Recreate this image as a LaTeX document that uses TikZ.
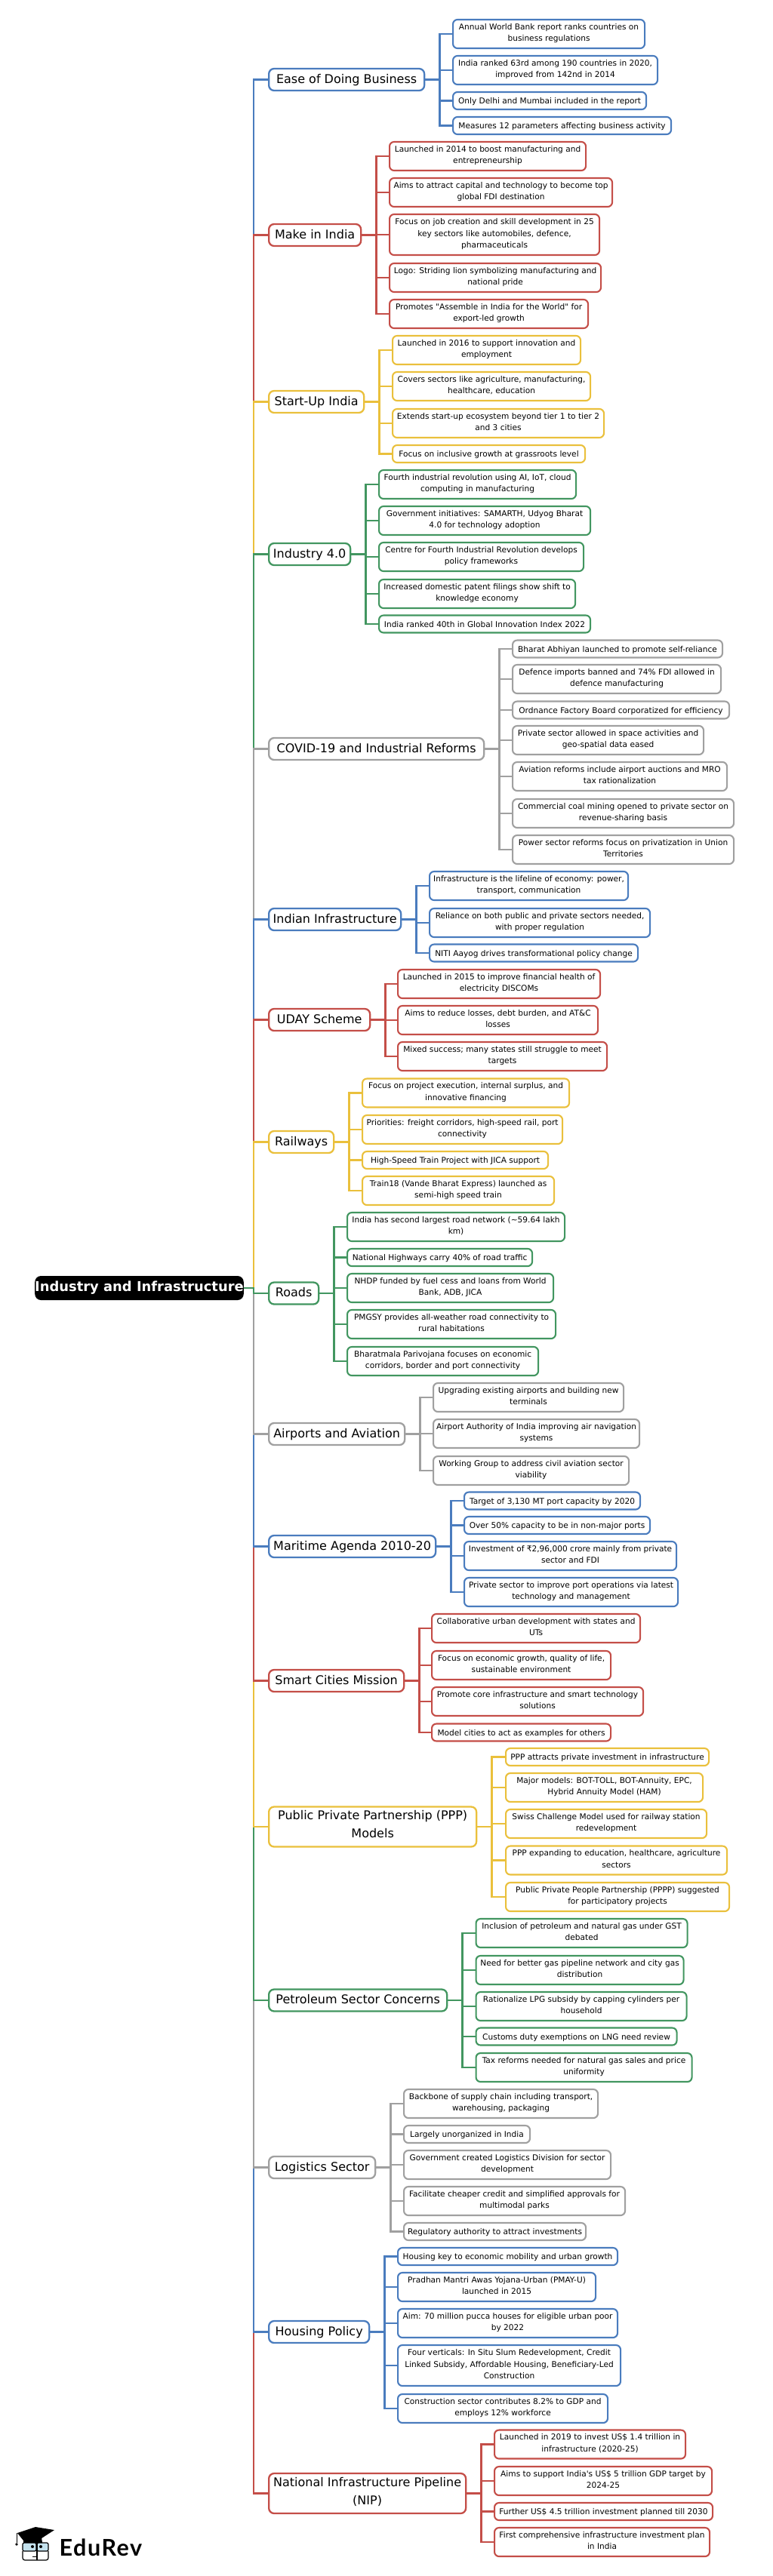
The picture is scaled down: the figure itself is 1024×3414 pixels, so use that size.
\documentclass[tikz,border=0pt]{standalone}
\usepackage{fontspec}
\setmainfont{DejaVu Sans}
\newfontfamily\plainfont{DejaVu Sans}
\newfontfamily\logofont[LetterSpace=5]{Lato}
\definecolor{blue1}{RGB}{74, 124, 190}
\definecolor{red1}{RGB}{196, 78, 72}
\definecolor{yellow1}{RGB}{234, 192, 60}
\definecolor{green1}{RGB}{66, 150, 96}
\definecolor{gray1}{RGB}{160, 160, 160}
\definecolor{glass1}{RGB}{196, 226, 238}
\tikzset{
  rootbox/.style={fill=black, text=white, rounded corners=8pt, inner sep=0pt, minimum width=267pt, minimum height=32pt, font=\plainfont\fontsize{17.9}{24}\selectfont\bfseries},
  branch/.style={draw=#1, line width=2.3pt, fill=white, rounded corners=7pt, inner sep=0pt, align=center, anchor=west, minimum height=29pt, font=\plainfont\fontsize{16}{24}\selectfont, execute at begin node=\strut, execute at end node=\strut},
  leaf/.style={draw=#1, line width=2.1pt, fill=white, rounded corners=6pt, inner sep=0pt, align=center, anchor=west, minimum height=38pt, font=\plainfont\fontsize{10.6}{15.7}\selectfont, execute at begin node={\rule{0pt}{12.5pt}}, execute at end node={\rule[-4pt]{0pt}{4pt}}},
  one/.style={minimum height=23pt},
  three/.style={minimum height=54pt},
  tall/.style={minimum height=53pt},
  link/.style={draw=#1, line width=2.8pt}
}
\begin{document}
\begin{tikzpicture}[x=1pt, y=-1pt]
  \useasboundingbox (0,0) rectangle (1024,3414);

  \node[rootbox] (root) at (184.5,1707) {Industry and Infrastructure};
  \coordinate (trunk) at (336,1707);

  \node[branch=blue1, minimum width=206pt] (ease) at (355,105.5) {Ease of Doing Business};
  \node[leaf=blue1, minimum width=254pt] (ease1) at (599,45) {Annual World Bank report ranks countries on\\business regulations};
  \node[leaf=blue1, minimum width=271pt] (ease2) at (599,93) {India ranked 63rd among 190 countries in 2020,\\improved from 142nd in 2014};
  \node[leaf=blue1, one, minimum width=256pt] (ease3) at (599,133.5) {Only Delhi and Mumbai included in the report};
  \node[leaf=blue1, one, minimum width=289pt] (ease4) at (599,166.5) {Measures 12 parameters affecting business activity};

  \node[branch=red1, minimum width=122pt] (make) at (355,311.5) {Make in India};
  \node[leaf=red1, minimum width=260pt] (make1) at (515,207) {Launched in 2014 to boost manufacturing and\\entrepreneurship};
  \node[leaf=red1, minimum width=295pt] (make2) at (515,255) {Aims to attract capital and technology to become top\\global FDI destination};
  \node[leaf=red1, three, minimum width=278pt] (make3) at (515,311) {Focus on job creation and skill development in 25\\key sectors like automobiles, defence,\\pharmaceuticals};
  \node[leaf=red1, minimum width=280pt] (make4) at (515,368) {Logo: Striding lion symbolizing manufacturing and\\national pride};
  \node[leaf=red1, minimum width=263pt] (make5) at (515,416) {Promotes "Assemble in India for the World" for\\export-led growth};

  \node[branch=yellow1, minimum width=126pt] (start) at (355,532.5) {Start-Up India};
  \node[leaf=yellow1, minimum width=249pt] (start1) at (519,464) {Launched in 2016 to support innovation and\\employment};
  \node[leaf=yellow1, minimum width=262pt] (start2) at (519,512) {Covers sectors like agriculture, manufacturing,\\healthcare, education};
  \node[leaf=yellow1, minimum width=280pt] (start3) at (519,561) {Extends start-up ecosystem beyond tier 1 to tier 2\\and 3 cities};
  \node[leaf=yellow1, one, minimum width=255pt] (start4) at (519,601.5) {Focus on inclusive growth at grassroots level};

  \node[branch=green1, minimum width=108pt] (ind) at (355,734.5) {Industry 4.0};
  \node[leaf=green1, minimum width=261pt] (ind1) at (501,642) {Fourth industrial revolution using AI, IoT, cloud\\computing in manufacturing};
  \node[leaf=green1, minimum width=280pt] (ind2) at (501,690) {Government initiatives: SAMARTH, Udyog Bharat\\4.0 for technology adoption};
  \node[leaf=green1, minimum width=271pt] (ind3) at (501,738) {Centre for Fourth Industrial Revolution develops\\policy frameworks};
  \node[leaf=green1, minimum width=260pt] (ind4) at (501,787) {Increased domestic patent filings show shift to\\knowledge economy};
  \node[leaf=green1, one, minimum width=280pt] (ind5) at (501,827) {India ranked 40th in Global Innovation Index 2022};

  \node[branch=gray1, minimum width=285pt] (covid) at (355,992.5) {COVID-19 and Industrial Reforms};
  \node[leaf=gray1, one, minimum width=278pt] (covid1) at (678,860) {Bharat Abhiyan launched to promote self-reliance};
  \node[leaf=gray1, minimum width=276pt] (covid2) at (678,900) {Defence imports banned and 74\% FDI allowed in\\defence manufacturing};
  \node[leaf=gray1, one, minimum width=287pt] (covid3) at (678,941) {Ordnance Factory Board corporatized for efficiency};
  \node[leaf=gray1, minimum width=253pt] (covid4) at (678,981) {Private sector allowed in space activities and\\geo-spatial data eased};
  \node[leaf=gray1, minimum width=284pt] (covid5) at (678,1029) {Aviation reforms include airport auctions and MRO\\tax rationalization};
  \node[leaf=gray1, minimum width=293pt] (covid6) at (678,1078) {Commercial coal mining opened to private sector on\\revenue-sharing basis};
  \node[leaf=gray1, minimum width=293pt] (covid7) at (678,1126) {Power sector reforms focus on privatization in Union\\Territories};

  \node[branch=blue1, minimum width=175pt] (infra) at (355,1218.5) {Indian Infrastructure};
  \node[leaf=blue1, minimum width=263pt] (infra1) at (568,1174) {Infrastructure is the lifeline of economy: power,\\transport, communication};
  \node[leaf=blue1, minimum width=292pt] (infra2) at (568,1223) {Reliance on both public and private sectors needed,\\with proper regulation};
  \node[leaf=blue1, one, minimum width=276pt] (infra3) at (568,1263) {NITI Aayog drives transformational policy change};

  \node[branch=red1, minimum width=134pt] (uday) at (355,1351.5) {UDAY Scheme};
  \node[leaf=red1, minimum width=268pt] (uday1) at (526,1304) {Launched in 2015 to improve financial health of\\electricity DISCOMs};
  \node[leaf=red1, minimum width=265pt] (uday2) at (526,1352) {Aims to reduce losses, debt burden, and AT\&C\\losses};
  \node[leaf=red1, minimum width=277pt] (uday3) at (526,1400) {Mixed success; many states still struggle to meet\\targets};

  \node[branch=yellow1, minimum width=86pt] (rail) at (355,1513.5) {Railways};
  \node[leaf=yellow1, minimum width=274pt] (rail1) at (479,1448.5) {Focus on project execution, internal surplus, and\\innovative financing};
  \node[leaf=yellow1, minimum width=265pt] (rail2) at (479,1497) {Priorities: freight corridors, high-speed rail, port\\connectivity};
  \node[leaf=yellow1, one, minimum width=246pt] (rail3) at (479,1537.5) {High-Speed Train Project with JICA support};
  \node[leaf=yellow1, minimum width=254pt] (rail4) at (479,1578) {Train18 (Vande Bharat Express) launched as\\semi-high speed train};

  \node[branch=green1, minimum width=66pt] (road) at (355,1714) {Roads};
  \node[leaf=green1, minimum width=288pt] (road1) at (459,1626) {India has second largest road network (\textasciitilde59.64 lakh\\km)};
  \node[leaf=green1, one, minimum width=245pt] (road2) at (459,1666.5) {National Highways carry 40\% of road traffic};
  \node[leaf=green1, minimum width=273pt] (road3) at (459,1707) {NHDP funded by fuel cess and loans from World\\Bank, ADB, JICA};
  \node[leaf=green1, minimum width=276pt] (road4) at (459,1755) {PMGSY provides all-weather road connectivity to\\rural habitations};
  \node[leaf=green1, minimum width=253pt] (road5) at (459,1804) {Bharatmala Parivojana focuses on economic\\corridors, border and port connectivity};

  \node[branch=gray1, minimum width=180pt] (air) at (355,1900.5) {Airports and Aviation};
  \node[leaf=gray1, minimum width=252pt] (air1) at (573,1852) {Upgrading existing airports and building new\\terminals};
  \node[leaf=gray1, minimum width=273pt] (air2) at (573,1900) {Airport Authority of India improving air navigation\\systems};
  \node[leaf=gray1, minimum width=259pt] (air3) at (573,1949) {Working Group to address civil aviation sector\\viability};

  \node[branch=blue1, minimum width=221pt] (sea) at (355,2049.5) {Maritime Agenda 2010-20};
  \node[leaf=blue1, one, minimum width=233pt] (sea1) at (614,1989) {Target of 3,130 MT port capacity by 2020};
  \node[leaf=blue1, one, minimum width=246pt] (sea2) at (614,2021.5) {Over 50\% capacity to be in non-major ports};
  \node[leaf=blue1, minimum width=281pt] (sea3) at (614,2062) {Investment of ₹2,96,000 crore mainly from private\\sector and FDI};
  \node[leaf=blue1, minimum width=283pt] (sea4) at (614,2110) {Private sector to improve port operations via latest\\technology and management};

  \node[branch=red1, minimum width=179pt] (smart) at (355,2227.5) {Smart Cities Mission};
  \node[leaf=red1, minimum width=276pt] (smart1) at (571,2158) {Collaborative urban development with states and\\UTs};
  \node[leaf=red1, minimum width=237pt] (smart2) at (571,2207) {Focus on economic growth, quality of life,\\sustainable environment};
  \node[leaf=red1, minimum width=280pt] (smart3) at (571,2255) {Promote core infrastructure and smart technology\\solutions};
  \node[leaf=red1, one, minimum width=237pt] (smart4) at (571,2296) {Model cities to act as examples for others};

  \node[branch=yellow1, tall, minimum width=275pt] (ppp) at (355,2421) {Public Private Partnership (PPP)\\Models};
  \node[leaf=yellow1, one, minimum width=269pt] (ppp1) at (669,2328.5) {PPP attracts private investment in infrastructure};
  \node[leaf=yellow1, minimum width=261pt] (ppp2) at (669,2369) {Major models: BOT-TOLL, BOT-Annuity, EPC,\\Hybrid Annuity Model (HAM)};
  \node[leaf=yellow1, minimum width=266pt] (ppp3) at (669,2417) {Swiss Challenge Model used for railway station\\redevelopment};
  \node[leaf=yellow1, minimum width=293pt] (ppp4) at (669,2465.5) {PPP expanding to education, healthcare, agriculture\\sectors};
  \node[leaf=yellow1, minimum width=296pt] (ppp5) at (669,2514) {Public Private People Partnership (PPPP) suggested\\for participatory projects};

  \node[branch=green1, minimum width=236pt] (oil) at (355,2651) {Petroleum Sector Concerns};
  \node[leaf=green1, minimum width=280pt] (oil1) at (629.5,2562) {Inclusion of petroleum and natural gas under GST\\debated};
  \node[leaf=green1, minimum width=275pt] (oil2) at (629.5,2611) {Need for better gas pipeline network and city gas\\distribution};
  \node[leaf=green1, minimum width=279pt] (oil3) at (629.5,2659) {Rationalize LPG subsidy by capping cylinders per\\household};
  \node[leaf=green1, one, minimum width=266pt] (oil4) at (629.5,2699) {Customs duty exemptions on LNG need review};
  \node[leaf=green1, minimum width=286pt] (oil5) at (629.5,2740) {Tax reforms needed for natural gas sales and price\\uniformity};

  \node[branch=gray1, minimum width=141pt] (logi) at (355,2872.5) {Logistics Sector};
  \node[leaf=gray1, minimum width=257pt] (logi1) at (534,2788) {Backbone of supply chain including transport,\\warehousing, packaging};
  \node[leaf=gray1, one, minimum width=167pt] (logi2) at (534,2828.5) {Largely unorganized in India};
  \node[leaf=gray1, minimum width=274pt] (logi3) at (534,2869) {Government created Logistics Division for sector\\development};
  \node[leaf=gray1, minimum width=293pt] (logi4) at (534,2917) {Facilitate cheaper credit and simplified approvals for\\multimodal parks};
  \node[leaf=gray1, one, minimum width=241pt] (logi5) at (534,2957.5) {Regulatory authority to attract investments};

  \node[branch=blue1, minimum width=133pt] (house) at (355,3090.5) {Housing Policy};
  \node[leaf=blue1, one, minimum width=291pt] (house1) at (526,2990.5) {Housing key to economic mobility and urban growth};
  \node[leaf=blue1, minimum width=262pt] (house2) at (526,3031) {Pradhan Mantri Awas Yojana-Urban (PMAY-U)\\launched in 2015};
  \node[leaf=blue1, minimum width=291pt] (house3) at (526,3079) {Aim: 70 million pucca houses for eligible urban poor\\by 2022};
  \node[leaf=blue1, three, minimum width=295pt] (house4) at (526,3135) {Four verticals: In Situ Slum Redevelopment, Credit\\Linked Subsidy, Affordable Housing, Beneficiary-Led\\Construction};
  \node[leaf=blue1, minimum width=278pt] (house5) at (526,3192) {Construction sector contributes 8.2\% to GDP and\\employs 12\% workforce};

  \node[branch=red1, tall, minimum width=261pt] (nip) at (355,3304.5) {National Infrastructure Pipeline\\(NIP)};
  \node[leaf=red1, minimum width=253pt] (nip1) at (654,3239.5) {Launched in 2019 to invest US\$ 1.4 trillion in\\infrastructure (2020-25)};
  \node[leaf=red1, minimum width=288pt] (nip2) at (654,3288) {Aims to support India's US\$ 5 trillion GDP target by\\2024-25};
  \node[leaf=red1, one, minimum width=289pt] (nip3) at (654,3328.5) {Further US\$ 4.5 trillion investment planned till 2030};
  \node[leaf=red1, minimum width=285pt] (nip4) at (654,3369) {First comprehensive infrastructure investment plan\\in India};

  % trunk, outermost branches first so the inner ones lie on top
  \foreach \to/\col in {ease/blue1, make/red1, start/yellow1, ind/green1, covid/gray1, infra/blue1, uday/red1, rail/yellow1, nip/red1, house/blue1, logi/gray1, oil/green1, ppp/yellow1, smart/red1, sea/blue1, air/gray1, road/green1}
    \draw[link=\col] (root.east) -- (trunk) |- (\to.west);

  % second level
  \foreach \from/\n/\col in {ease/4/blue1, make/5/red1, start/4/yellow1, ind/5/green1, covid/7/gray1, infra/3/blue1, uday/3/red1, rail/4/yellow1, road/5/green1, air/3/gray1, sea/4/blue1, smart/4/red1, ppp/5/yellow1, oil/5/green1, logi/5/gray1, house/5/blue1, nip/4/red1}
    \foreach \k in {1,...,\n}
      \draw[link=\col] (\from.east) -- ++(19,0) |- (\from\k.west);

  % logo
  \node[font=\logofont\bfseries\fontsize{30.5}{30}\selectfont, anchor=west, inner sep=0pt] (edurev) at (78.5,3376) {EduRev};
  \fill[black] (31,3365) -- (55,3362) -- (56,3370) -- (31,3370) -- cycle;
  \fill[black] (23,3357) -- (47,3349) -- (72,3353) -- (55,3364) -- (31,3367) -- cycle;
  \draw[black, line width=1pt] (22,3357) -- (22,3370);
  \fill[black] (22,3372) circle (1.8);
  \fill[glass1, draw=black, line width=1.2pt, rounded corners=2pt] (30,3370) rectangle (48,3381);
  \fill[glass1, draw=black, line width=1.2pt, rounded corners=2pt] (49,3370) rectangle (64,3381);
  \draw[black, line width=1.2pt, rounded corners=3pt] (30,3381) -- (30,3393) -- (64,3393) -- (64,3381);
  \draw[black, line width=1.2pt] (49,3370) -- (49,3393);
  \draw[black, line width=1pt] (43,3388) -- (49,3388);
  \fill[black] (43,3375) circle (2);
  \fill[black] (54,3375) circle (2);
\end{tikzpicture}
\end{document}
